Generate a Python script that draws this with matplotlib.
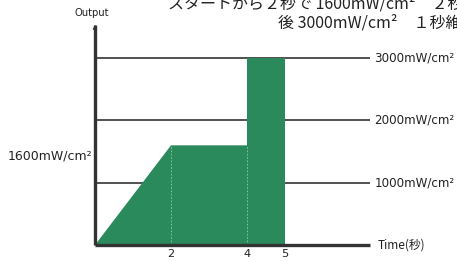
import matplotlib
matplotlib.use("Agg")
import matplotlib.pyplot as plt

plt.rcParams['font.family'] = ['Noto Sans CJK JP', 'DejaVu Sans']

# Data
times = [0, 2, 4, 4, 5, 5]
output = [0, 1600, 1600, 3000, 3000, 0]
grid_levels = [1000, 2000, 3000]
grid_labels = ["1000mW/cm²", "2000mW/cm²", "3000mW/cm²"]
xticks = [2, 4, 5]
xtick_labels = ["2", "4", "5"]
divider_times = [2, 4]
title_line1 = "スタートから２秒で 1600mW/cm²　２秒維持"
title_line2 = "後 3000mW/cm²　１秒維持"

W, H = 457, 261
fig = plt.figure(figsize=(W / 100, H / 100), dpi=100)

x0_px, x1_px = 95, 370
y0_px, y1_px = 245, 22
px_per_s = 38.0
px_per_k = 62.3
xmax = (x1_px - x0_px) / px_per_s
ymax = (y0_px - y1_px) / px_per_k * 1000

ax = fig.add_axes([x0_px / W, 1 - y0_px / H, (x1_px - x0_px) / W, (y0_px - y1_px) / H])
ax.set_xlim(0, xmax)
ax.set_ylim(0, ymax)
for s in ax.spines.values():
    s.set_visible(False)
ax.set_xticks([])
ax.set_yticks([])
ax.patch.set_alpha(0)

green = "#2a8a5c"
for lv in grid_levels:
    ax.plot([0, xmax], [lv, lv], color="#222222", lw=1.1, zorder=1, solid_capstyle="butt")
ax.fill(times, output, color=green, zorder=2, lw=0)
for t in divider_times:
    ax.plot([t, t], [0, 1600], color="#8fcfa8", lw=0.6, ls=(0, (2, 2)), zorder=3)

# Axes
ax.plot([0, xmax], [0, 0], color="#333333", lw=2.4, zorder=4, clip_on=False, solid_capstyle="butt")
ax.plot([0, 0], [0, ymax * 0.985], color="#333333", lw=2.4, zorder=4, clip_on=False, solid_capstyle="butt")
ax.annotate("", xy=(0, ymax), xytext=(0, ymax * 0.96),
            arrowprops=dict(arrowstyle="-|>", color="#333333", lw=0.8, mutation_scale=6),
            annotation_clip=False, zorder=5)

# Right-side labels
for lv, lab in zip(grid_levels, grid_labels):
    ax.text(xmax + 0.12, lv, lab, fontsize=8.6, color="#222222", va="center", ha="left",
            family=['DejaVu Sans'], clip_on=False)
ax.text(xmax + 0.2, 0, "Time(秒)", fontsize=8.5, color="#222222", va="center", ha="left",
        clip_on=False)
ax.text(-0.08, 1600 - 170, "1600mW/cm²", fontsize=9.0, color="#222222", va="center", ha="right",
        family=['DejaVu Sans'], clip_on=False)

for t, lab in zip(xticks, xtick_labels):
    ax.text(t, -150, lab, fontsize=8.2, color="#222222", va="center", ha="center",
            family=['DejaVu Sans'], clip_on=False)

fig.text(92 / W, 1 - 13 / H, "Output", fontsize=7.2, color="#222222", ha="center", va="center",
         family=['DejaVu Sans'])

fig.text(168 / W, 1 - 4 / H, title_line1, fontsize=11.5, color="#222222", ha="left", va="center")
fig.text(278 / W, 1 - 23 / H, title_line2, fontsize=11.5, color="#222222", ha="left", va="center")

fig.savefig("out.png", dpi=100)
